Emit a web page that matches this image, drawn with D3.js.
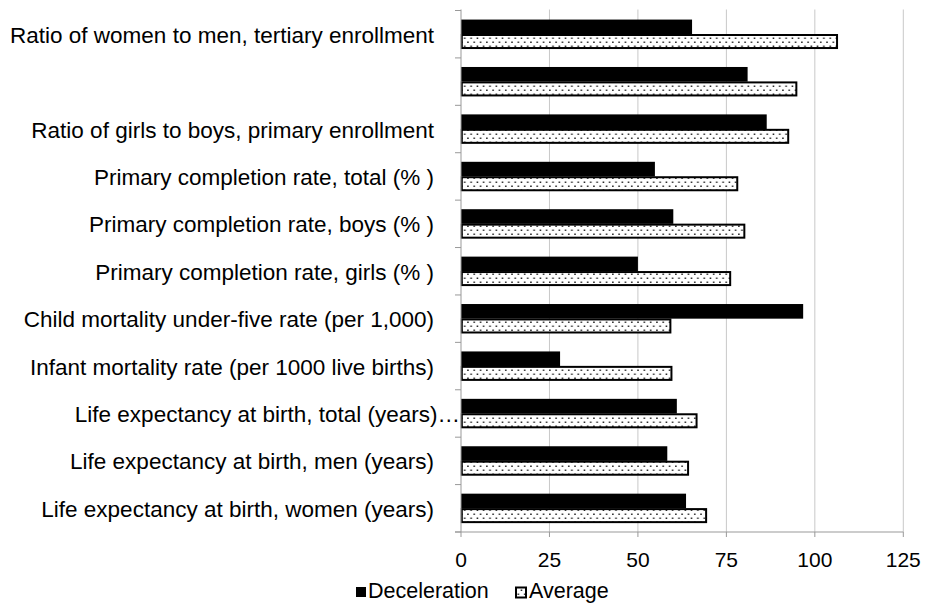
<!DOCTYPE html>
<html><head><meta charset="utf-8">
<script src="https://cdn.jsdelivr.net/npm/d3@7"></script>
<style>body{margin:0;background:#fff}svg{font-family:"Liberation Sans",Arial,sans-serif}</style>
</head><body><svg id="c" width="925" height="603"></svg>
<script>
const categories = [
  "Ratio of women to men, tertiary enrollment",
  "",
  "Ratio of girls to boys, primary enrollment",
  "Primary completion rate, total (% )",
  "Primary completion rate, boys (% )",
  "Primary completion rate, girls (% )",
  "Child mortality under-five rate (per 1,000)",
  "Infant mortality rate (per 1000 live births)",
  "Life expectancy at birth, total (years)\u2026",
  "Life expectancy at birth, men (years)",
  "Life expectancy at birth, women (years)"
];
const deceleration = [65.3, 81, 86.4, 54.8, 60, 50, 96.7, 28, 61, 58.3, 63.6];
const average = [106.5, 95, 92.7, 78.3, 80.3, 76.3, 59.4, 59.7, 66.8, 64.4, 69.5];
const seriesNames = ["Deceleration", "Average"];
const tickValues = [0, 25, 50, 75, 100, 125];

const svg = d3.select("#c");
const pLeft = 461, pRight = 903.3, pTop = 10.5, pBottom = 532;
const x = d3.scaleLinear().domain([0, 125]).range([pLeft, pRight]);
const y = d3.scaleBand().domain(d3.range(categories.length)).range([pTop, pBottom]);
const sub = d3.scaleBand().domain([0, 1]).range([0, y.bandwidth()]).paddingOuter(0.62).paddingInner(0);

const defs = svg.append("defs");
const pat = defs.append("pattern").attr("id", "dots").attr("patternUnits", "userSpaceOnUse")
  .attr("width", 6.3).attr("height", 8);
pat.append("rect").attr("width", 6.3).attr("height", 8).attr("fill", "#fff");
pat.append("rect").attr("x", 1).attr("y", 1.5).attr("width", 1.5).attr("height", 1.5).attr("fill", "#222");
pat.append("rect").attr("x", 4.15).attr("y", 5.5).attr("width", 1.5).attr("height", 1.5).attr("fill", "#222");

// gridlines
svg.append("g").selectAll("line").data(tickValues.slice(1)).join("line")
  .attr("x1", d => x(d)).attr("x2", d => x(d)).attr("y1", pTop - 1).attr("y2", pBottom)
  .attr("stroke", "#c8c8c8").attr("stroke-width", 1);

// bars
const g = svg.append("g");
categories.forEach((c, i) => {
  g.append("rect").attr("x", x(0)).attr("y", y(i) + sub(0))
    .attr("width", x(deceleration[i]) - x(0)).attr("height", sub.bandwidth())
    .attr("fill", "#000");
  g.append("rect").attr("x", x(0) + 0.8).attr("y", y(i) + sub(1) + 0.8)
    .attr("width", x(average[i]) - x(0) - 1.6).attr("height", sub.bandwidth() - 1.6)
    .attr("fill", "url(#dots)").attr("stroke", "#000").attr("stroke-width", 2);
});

// left axis line and category ticks
svg.append("line").attr("x1", pLeft).attr("x2", pLeft).attr("y1", pTop - 1).attr("y2", pBottom)
  .attr("stroke", "#999").attr("stroke-width", 1);
svg.append("g").selectAll("line").data(d3.range(categories.length + 1)).join("line")
  .attr("x1", pLeft - 6).attr("x2", pLeft)
  .attr("y1", d => pTop + d * y.step()).attr("y2", d => pTop + d * y.step())
  .attr("stroke", "#999");

// bottom axis
svg.append("line").attr("x1", pLeft - 6).attr("x2", pRight).attr("y1", pBottom).attr("y2", pBottom).attr("stroke", "#999");
svg.append("g").selectAll("line").data(tickValues).join("line")
  .attr("x1", d => x(d)).attr("x2", d => x(d)).attr("y1", pBottom).attr("y2", pBottom + 5).attr("stroke", "#999");
svg.append("g").selectAll("text").data(tickValues).join("text")
  .attr("x", d => x(d)).attr("y", 566.5).attr("text-anchor", "middle")
  .attr("font-size", 21).attr("fill", "#000").text(d => d);

// category labels
svg.append("g").selectAll("text").data(categories).join("text")
  .attr("x", (d, i) => d.endsWith("\u2026") ? 460 : 434)
  .attr("y", (d, i) => y(i) + y.bandwidth() / 2 + 8.5)
  .attr("text-anchor", "end").attr("font-size", 22.5).attr("fill", "#000").text(d => d);

// legend
const leg = svg.append("g");
leg.append("rect").attr("x", 356).attr("y", 587).attr("width", 10).attr("height", 10).attr("fill", "#000");
leg.append("text").attr("x", 368).attr("y", 597.5).attr("font-size", 21.5).text(seriesNames[0]);
leg.append("rect").attr("x", 516).attr("y", 587.5).attr("width", 10).attr("height", 10)
  .attr("fill", "url(#dots)").attr("stroke", "#000").attr("stroke-width", 2);
leg.append("text").attr("x", 529).attr("y", 597.5).attr("font-size", 21.5).text(seriesNames[1]);
</script></body></html>
